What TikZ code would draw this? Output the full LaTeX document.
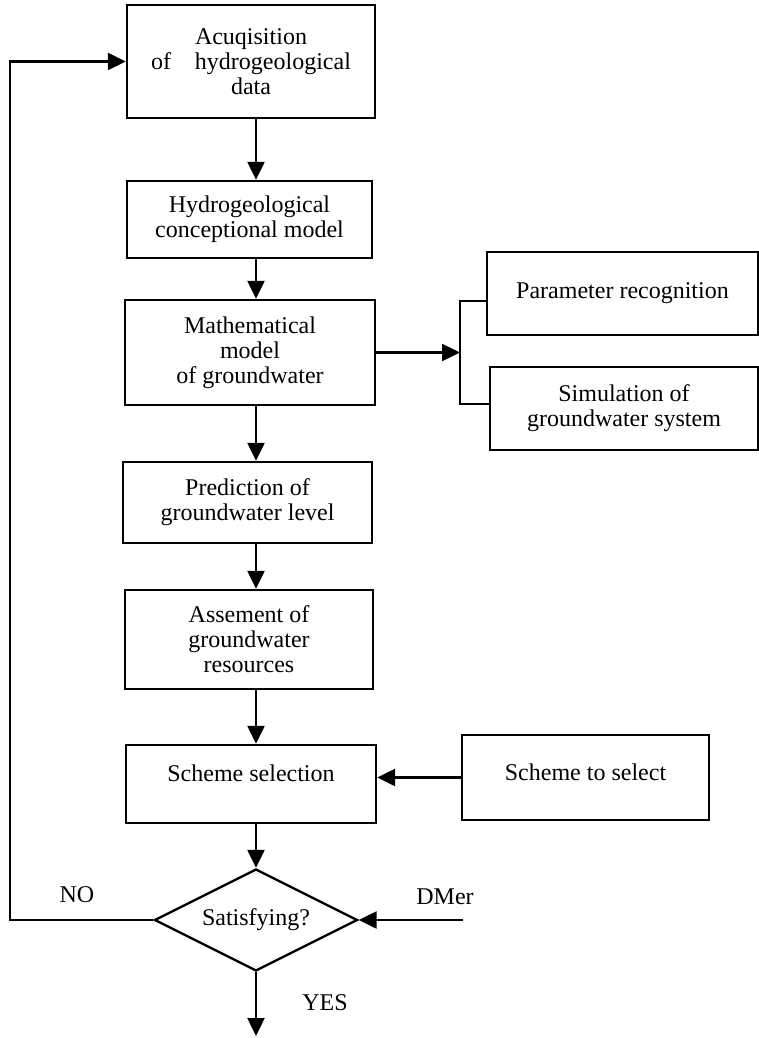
\documentclass[tikz,border=0pt]{standalone}
\usepackage{fontspec}
\setmainfont{Liberation Serif}
\usepackage{tikz}
\usetikzlibrary{arrows.meta,shapes.geometric}

\begin{document}
\begin{tikzpicture}[x=0.5pt, y=-0.5pt,
  box/.style={draw, line width=1.2pt, align=center, font=\fontsize{12}{12.5}\selectfont, inner sep=0pt},
  dec/.style={draw, diamond, aspect=2, line width=1.2pt, font=\fontsize{12}{12.5}\selectfont, inner sep=0pt, minimum width=101.5pt, minimum height=51pt},
  arr/.style={-{Triangle[length=9pt, width=8.5pt]}, line width=1.2pt},
  lab/.style={font=\fontsize{12}{12.5}\selectfont}]
\useasboundingbox (0,0) rectangle (759,1038);
% main column
\node[box, minimum width=124pt, minimum height=56.5pt] (acq) at (251,61.5) {Acuqisition\\of\quad hydrogeological\\data};
\node[box, minimum width=122.5pt, minimum height=38.5pt] (concept) at (249.5,219.5) {Hydrogeological\\conceptional model};
\node[box, minimum width=125pt, minimum height=52.5pt] (math) at (250,352.5) {Mathematical\\model\\of groundwater};
\node[box, minimum width=124.5pt, minimum height=40.5pt] (pred) at (247.5,502.5) {Prediction of\\groundwater level};
\node[box, minimum width=124pt, minimum height=49.5pt] (assess) at (249,639.5) {Assement of\\groundwater\\resources};
\node[box, minimum width=125pt, minimum height=39pt, text depth=11pt] (sel) at (251,784) {Scheme selection};
\node[dec] (sat) at (256,920) {Satisfying?};
% right side
\node[box, minimum width=135.5pt, minimum height=41.5pt] (param) at (622.5,293.5) {Parameter recognition};
\node[box, minimum width=134pt, minimum height=41.5pt] (sim) at (624,408.5) {Simulation of\\groundwater system};
\node[box, minimum width=123.5pt, minimum height=42.5pt, text depth=5.5pt] (cand) at (585.5,777.5) {Scheme to select};
% labels
\node[lab] (nolab) at (77,895) {NO};
\node[lab] (dmlab) at (445,897) {DMer};
\node[lab] (yeslab) at (325,1003) {YES};
\coordinate (bt) at (460,301);
\coordinate (bb) at (460,404);
\coordinate (back) at (10,920);
\coordinate (dm) at (463,920);
\coordinate (out) at (256,1036);
\draw[arr] (acq.south -| sat) -- (concept.north -| sat);
\draw[arr] (concept.south -| sat) -- (math.north -| sat);
\draw[arr] (math.south -| sat) -- (pred.north -| sat);
\draw[arr] (pred.south -| sat) -- (assess.north -| sat);
\draw[arr] (assess.south -| sat) -- (sel.north -| sat);
\draw[arr] (sel.south -| sat) -- (sat.north);
\draw[arr] (sat.south) -- (out);
\draw[arr] (math.east) -- (math.east -| bt);
\draw[line width=1.2pt] (param.west |- bt) -- (bt) -- (bb) -- (sim.west |- bb);
\draw[arr] (cand.west) -- (cand.west -| sel.east);
\draw[arr] (dm) -- (sat.east);
\draw[arr] (sat.west) -- (back) |- (acq.west);
\end{tikzpicture}
\end{document}
